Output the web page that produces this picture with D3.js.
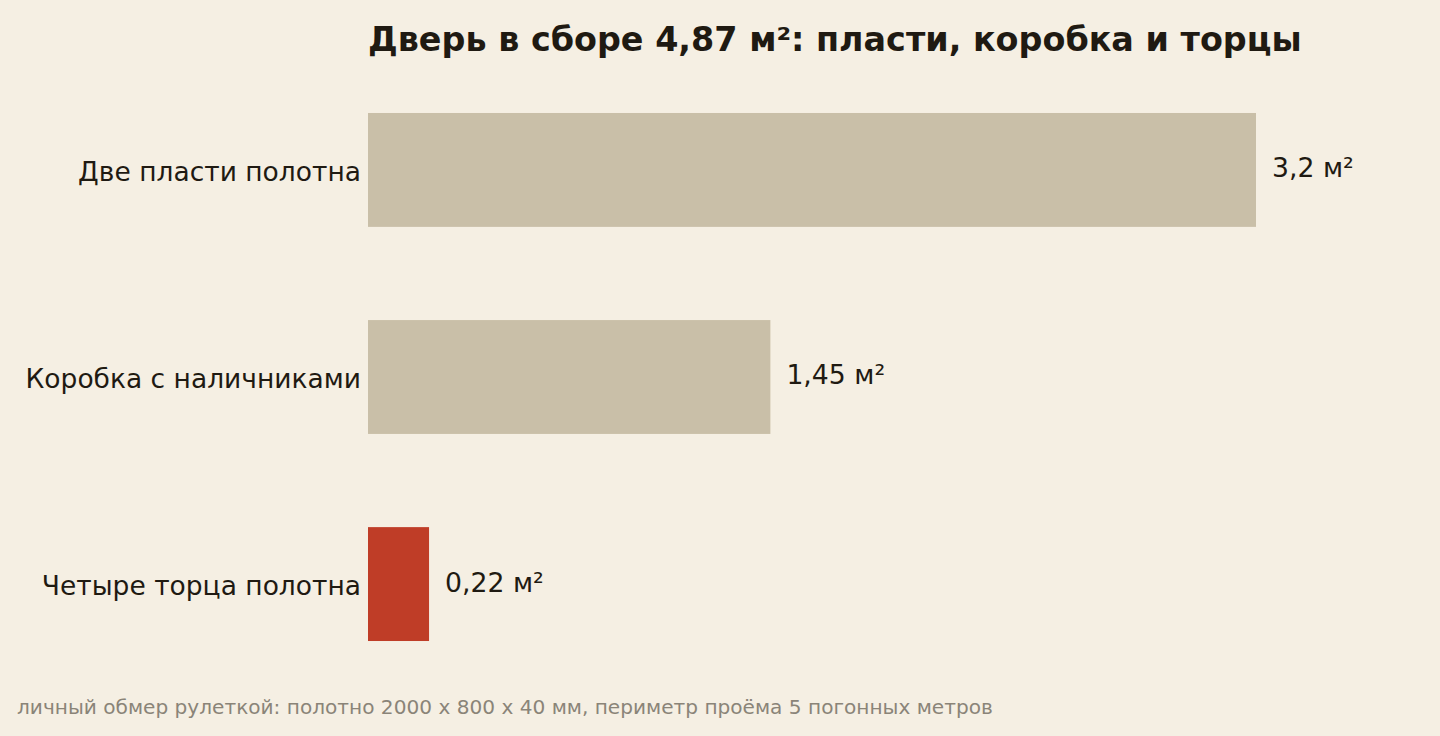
<!DOCTYPE html>
<html><head><meta charset="utf-8">
<script src="https://cdn.jsdelivr.net/npm/d3@7"></script>
<style>
html,body{margin:0;padding:0;background:#f5efe3;}
svg{display:block;font-family:"DejaVu Sans",sans-serif;}
</style></head>
<body>
<script>
const categories = ["Две пласти полотна", "Коробка с наличниками", "Четыре торца полотна"];
const values = [3.2, 1.45, 0.22];
const valueLabels = ["3,2 м²", "1,45 м²", "0,22 м²"];
const highlight = [false, false, true];
const titleText = "Дверь в сборе 4,87 м²: пласти, коробка и торцы";
const noteText = "личный обмер рулеткой: полотно 2000 х 800 х 40 мм, периметр проёма 5 погонных метров";

const W = 1440, H = 736;
const svg = d3.select("body").append("svg").attr("width", W).attr("height", H);
svg.append("rect").attr("width", W).attr("height", H).attr("fill", "#f5efe3");

const x = d3.scaleLinear().domain([0, 3.2]).range([368, 1256]);
const y = d3.scaleBand().domain(categories).range([66.4, 687.6]).paddingInner(0.45).paddingOuter(0.225);

const data = categories.map((c, i) => ({c, v: values[i], l: valueLabels[i], h: highlight[i]}));

svg.append("g").selectAll("rect").data(data).join("rect")
  .attr("x", x(0)).attr("y", d => y(d.c))
  .attr("width", d => x(d.v) - x(0)).attr("height", y.bandwidth())
  .attr("fill", d => d.h ? "#bf3d27" : "#c9bfa8");

svg.append("g").selectAll("text").data(data).join("text")
  .attr("x", 361).attr("y", d => y(d.c) + y.bandwidth() / 2)
  .attr("dy", "0.42em").attr("text-anchor", "end")
  .attr("font-size", 26.5).attr("fill", "#1f1a12").text(d => d.c);

svg.append("g").selectAll("text").data(data).join("text")
  .attr("x", d => x(d.v) + 16).attr("y", d => y(d.c) + y.bandwidth() / 2)
  .attr("dy", "0.28em")
  .attr("font-size", 26.7).attr("fill", "#1f1a12").text(d => d.l);

svg.append("text").attr("x", 368).attr("y", 51)
  .attr("font-size", 33.4).attr("font-weight", "bold").attr("fill", "#1f1a12").text(titleText);

svg.append("text").attr("x", 17).attr("y", 714)
  .attr("font-size", 20.1).attr("fill", "#8a8478").text(noteText);
</script>
</body></html>
